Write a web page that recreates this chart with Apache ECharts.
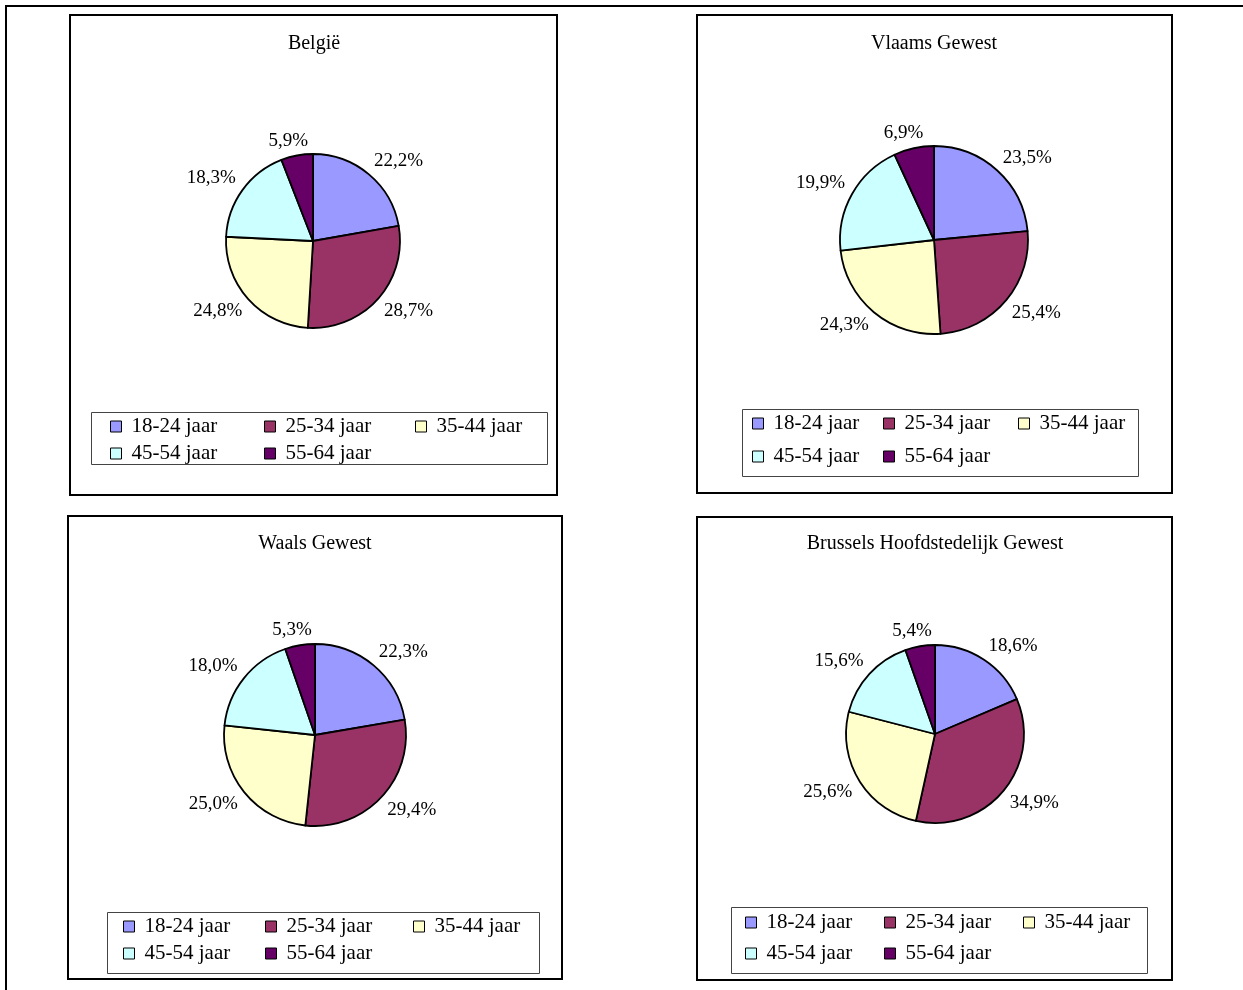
<!DOCTYPE html>
<html><head><meta charset="utf-8">
<script src="https://cdn.jsdelivr.net/npm/echarts@6/dist/echarts.min.js"></script>
<style>html,body{margin:0;padding:0;background:#fff}#chart{width:1243px;height:990px}</style>
</head><body><div id="chart"></div>
<script>
// ---- data ----
const categories = ['18-24 jaar', '25-34 jaar', '35-44 jaar', '45-54 jaar', '55-64 jaar'];
const titles = ['België', 'Vlaams Gewest', 'Waals Gewest', 'Brussels Hoofdstedelijk Gewest'];
const belgie  = [22.2, 28.7, 24.8, 18.3, 5.9];
const vlaams  = [23.5, 25.4, 24.3, 19.9, 6.9];
const waals   = [22.3, 29.4, 25.0, 18.0, 5.3];
const brussel = [18.6, 34.9, 25.6, 15.6, 5.4];
const colors = ['#9999FF', '#993366', '#FFFFCC', '#CCFFFF', '#660066'];

// ---- layout ----
const FONT = '"Liberation Serif", "Times New Roman", serif';
const panels = [
  {values: belgie,  title: titles[0], box: [70, 15, 557, 495],  titlePos: [314, 44],  center: [313, 241], r: 87,
   legendBox: [91, 412, 547, 464],  cols: [110, 264, 415],  rows: [426, 453]},
  {values: vlaams,  title: titles[1], box: [697, 15, 1172, 493], titlePos: [934, 44],  center: [934, 240], r: 94,
   legendBox: [742, 409, 1138, 476], cols: [752, 883, 1018], rows: [423, 456]},
  {values: waals,   title: titles[2], box: [68, 516, 562, 979],  titlePos: [315, 544], center: [315, 735], r: 91,
   legendBox: [107, 912, 539, 973], cols: [123, 265, 413],  rows: [926, 953]},
  {values: brussel, title: titles[3], box: [697, 517, 1172, 980], titlePos: [935, 544], center: [935, 734], r: 89,
   legendBox: [731, 907, 1147, 973], cols: [745, 884, 1023], rows: [922, 953]}
];

function fmt(v) { return v.toFixed(1).replace('.', ',') + '%'; }

function labelLayoutFor(p) {
  const vals = p.values;
  const total = vals.reduce((a, b) => a + b, 0);
  return function (params) {
    const i = params.dataIndex;
    let cum = 0;
    for (let k = 0; k < i; k++) cum += vals[k];
    const a = (cum + vals[i] / 2) / total * 2 * Math.PI;
    const dx = Math.sin(a), dy = -Math.cos(a);
    const d = p.r + 8;
    const hw = params.labelRect.width / 2, hh = 7;
    const fx = Math.min(1, Math.abs(dx) / 0.5), fy = Math.min(1, Math.abs(dy) / 0.5);
    return {
      x: p.center[0] + d * dx + Math.sign(dx) * fx * hw,
      y: p.center[1] + d * dy + Math.sign(dy) * fy * hh,
      align: 'center', verticalAlign: 'middle'
    };
  };
}

const series = [], legends = [], graphics = [];

graphics.push({type: 'line', shape: {x1: 5, y1: 6, x2: 1243, y2: 6}, style: {stroke: '#000', lineWidth: 2}});
graphics.push({type: 'line', shape: {x1: 6, y1: 5, x2: 6, y2: 990}, style: {stroke: '#000', lineWidth: 2}});

panels.forEach(p => {
  graphics.push({type: 'rect', shape: {x: p.box[0], y: p.box[1], width: p.box[2] - p.box[0], height: p.box[3] - p.box[1]},
    style: {fill: 'none', stroke: '#000', lineWidth: 2}});
  graphics.push({type: 'rect', shape: {x: p.legendBox[0] + 0.5, y: p.legendBox[1] + 0.5, width: p.legendBox[2] - p.legendBox[0], height: p.legendBox[3] - p.legendBox[1]},
    style: {fill: 'none', stroke: '#444', lineWidth: 1}});
  graphics.push({type: 'text', x: p.titlePos[0], y: p.titlePos[1],
    style: {text: p.title, font: '20px ' + FONT, fill: '#000', align: 'center', verticalAlign: 'middle'}});

  series.push({
    type: 'pie', center: p.center, radius: p.r, startAngle: 90, clockwise: true,
    avoidLabelOverlap: false, silent: true, animation: false,
    data: categories.map((n, i) => ({name: n, value: p.values[i], itemStyle: {color: colors[i]}})),
    itemStyle: {borderColor: '#000', borderWidth: 1.8},
    label: {show: true, position: 'outside', formatter: q => fmt(q.value),
      fontFamily: FONT, fontSize: 19, color: '#000'},
    labelLine: {show: false},
    emphasis: {disabled: true},
    labelLayout: labelLayoutFor(p)
  });

  categories.forEach((name, i) => {
    const row = i < 3 ? 0 : 1, col = i < 3 ? i : i - 3;
    legends.push({
      left: p.cols[col], top: p.rows[row] - 10, padding: 0,
      itemWidth: 11, itemHeight: 11, icon: 'rect', selectedMode: false,
      data: [{name: name, itemStyle: {color: colors[i], borderColor: '#000', borderWidth: 1}}],
      textStyle: {fontFamily: FONT, fontSize: 21, lineHeight: 20, color: '#000', padding: [0, 0, 0, 5]}
    });
  });
});

const chart = echarts.init(document.getElementById('chart'));
chart.setOption({
  backgroundColor: '#fff',
  animation: false,
  legend: legends,
  graphic: graphics,
  series: series
});
</script>
</body></html>
